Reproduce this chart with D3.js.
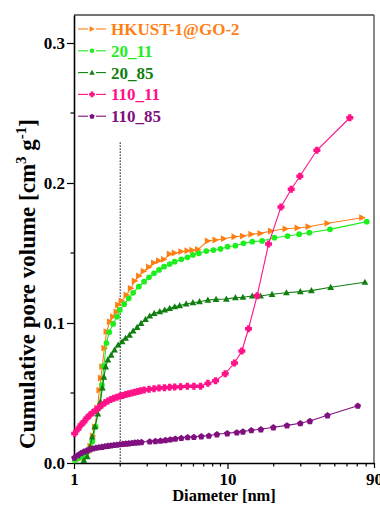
<!DOCTYPE html>
<html>
<head>
<meta charset="utf-8">
<script src="https://cdn.jsdelivr.net/npm/d3@7"></script>
<style>
  html, body { margin: 0; padding: 0; background: #fff; }
  svg { display: block; }
  text { font-family: "Liberation Serif", "Times New Roman", serif; font-weight: bold; }
</style>
</head>
<body>
<svg id="chart" width="380" height="505"></svg>
<script>
// Cumulative pore volume vs pore diameter (nm), five samples
const seriesNames = ["HKUST-1@GO-2", "20_11", "20_85", "110_11", "110_85"];

const hkustD = [1.03, 1.094, 1.161, 1.224, 1.28, 1.328, 1.369, 1.421, 1.464, 1.497, 1.527, 1.578, 1.63,
  1.713, 1.799, 1.893, 1.939, 2.04, 2.199, 2.345, 2.488, 2.653, 2.845, 3.08, 3.32, 3.58, 3.86, 4.2,
  4.53, 5.0, 5.48, 5.9, 6.42, 7.45, 8.35, 9.47, 11.1, 12.6, 14.3, 16.4, 19.2, 23.9, 28.6, 33.7, 44.8, 75.4];
const hkustV = [0.002, 0.003, 0.004, 0.0071, 0.0121, 0.0193, 0.0257, 0.0393, 0.0521, 0.0607, 0.0688, 0.0821, 0.0938,
  0.101, 0.1045, 0.108, 0.113, 0.1157, 0.12, 0.1248, 0.13, 0.1336, 0.137, 0.140, 0.143, 0.1445, 0.1455, 0.1493,
  0.150, 0.151, 0.1516, 0.152, 0.1525, 0.1586, 0.1593, 0.1602, 0.1616, 0.1621, 0.1634, 0.164, 0.1657, 0.1673, 0.1679, 0.1688, 0.1712, 0.1752];

const s2011D = [1.015, 1.051, 1.132, 1.191, 1.251, 1.315, 1.383, 1.453, 1.52, 1.566, 1.626, 1.695, 1.799,
  1.91, 1.989, 2.121, 2.275, 2.428, 2.643, 2.862, 3.08, 3.32, 3.58, 3.86, 4.2, 4.53, 5.0, 5.48, 5.95,
  6.51, 7.27, 8.1, 9.0, 10.0, 11.26, 12.7, 14.5, 16.8, 20.2, 24.6, 29.3, 34.1, 46.5, 80.7];
const s2011V = [0.0018, 0.0034, 0.0041, 0.0057, 0.0093, 0.0152, 0.0259, 0.0393, 0.0557, 0.0693, 0.0857, 0.0934, 0.0993,
  0.1045, 0.1093, 0.1134, 0.1176, 0.1216, 0.1259, 0.1295, 0.1326, 0.1355, 0.1379, 0.1402, 0.1421, 0.1438, 0.1455, 0.1469, 0.1486,
  0.1498, 0.1514, 0.1521, 0.1529, 0.1545, 0.1552, 0.1569, 0.1581, 0.1586, 0.1609, 0.1621, 0.1634, 0.1645, 0.1669, 0.1724];

const s2085D = [1.161, 1.22, 1.27, 1.315, 1.369, 1.431, 1.486, 1.531, 1.566, 1.609, 1.662, 1.746, 1.837,
  1.939, 2.059, 2.166, 2.3, 2.428, 2.577, 2.735, 2.923, 3.114, 3.33, 3.62, 3.9, 4.2, 4.53, 4.88, 5.38,
  5.95, 6.57, 7.45, 8.42, 9.83, 11.26, 12.6, 14.5, 16.4, 19.5, 24.2, 29.8, 35.2, 47.0, 78.5];
const s2085V = [0.0018, 0.0045, 0.0114, 0.0186, 0.0259, 0.035, 0.0436, 0.0536, 0.0614, 0.0686, 0.0736, 0.0771, 0.0807,
  0.0843, 0.0866, 0.0891, 0.0914, 0.0943, 0.0969, 0.0998, 0.1026, 0.105, 0.1069, 0.1081, 0.1093, 0.1105, 0.1116, 0.1124, 0.1136,
  0.1145, 0.1152, 0.1164, 0.1169, 0.1171, 0.1181, 0.1184, 0.1193, 0.1193, 0.1205, 0.1216, 0.1224, 0.1231, 0.1255, 0.1291];

const s11011D = [1.01, 1.062, 1.11, 1.161, 1.214, 1.27, 1.328, 1.389, 1.453, 1.52, 1.589, 1.662, 1.738,
  1.818, 1.902, 1.989, 2.08, 2.176, 2.276, 2.38, 2.489, 2.604, 2.723, 2.86, 3.08, 3.32, 3.58, 3.88,
  4.2, 4.53, 4.95, 5.47, 6.04, 6.68, 7.45, 8.36, 9.66, 11.1, 12.4, 13.7, 15.6, 18.5, 22.3, 26.0, 29.6, 38.2, 62.6];
const s11011V = [0.0211, 0.0243, 0.0271, 0.0295, 0.0321, 0.0343, 0.0361, 0.0379, 0.0396, 0.0414, 0.043, 0.0443, 0.0454,
  0.0462, 0.047, 0.0476, 0.0482, 0.0489, 0.0494, 0.05, 0.0506, 0.0511, 0.0516, 0.0521, 0.0526, 0.0531, 0.0536, 0.0538,
  0.0541, 0.0543, 0.0545, 0.0548, 0.0548, 0.0548, 0.0569, 0.0588, 0.0638, 0.0714, 0.080, 0.0959, 0.1195, 0.1564, 0.1829, 0.1955, 0.2048, 0.2234, 0.2466];

const s11085D = [1.007, 1.062, 1.11, 1.161, 1.214, 1.27, 1.328, 1.389, 1.453, 1.52, 1.589, 1.662, 1.738,
  1.818, 1.902, 1.989, 2.08, 2.176, 2.276, 2.38, 2.489, 2.604, 2.75, 3.114, 3.39, 3.66, 3.94, 4.24,
  4.57, 5.0, 5.5, 6.04, 6.75, 7.56, 8.53, 9.96, 11.5, 12.6, 14.3, 16.5, 19.9, 24.4, 29.8, 34.4, 44.8, 70.6];
const s11085V = [0.0039, 0.0057, 0.0071, 0.0082, 0.0091, 0.0098, 0.0104, 0.0109, 0.0113, 0.0116, 0.012, 0.0123, 0.0126,
  0.0129, 0.0131, 0.0134, 0.0137, 0.0139, 0.0141, 0.0144, 0.0146, 0.0148, 0.015, 0.0154, 0.0157, 0.016, 0.0164, 0.0169,
  0.0174, 0.0179, 0.0184, 0.0186, 0.0191, 0.0195, 0.0205, 0.0212, 0.0219, 0.0225, 0.0234, 0.0241, 0.0255, 0.0269, 0.0284, 0.030, 0.0341, 0.0409];

const seriesColors = ["#ff7f15", "#1eee1e", "#107f10", "#ff1289", "#80107f"];
const seriesShapes = ["triRight", "circle", "triUp", "cross", "pentagon"];

const xTickValues = [1, 10, 90];
const xTickLabels = ["1", "10", "90"];
const yTickValues = [0, 0.1, 0.2, 0.3];
const yTickLabels = ["0.0", "0.1", "0.2", "0.3"];
const markerLineD = 2;   // dotted reference line at 2 nm
const markerLineTop = 0.229;

const seriesD = [hkustD, s2011D, s2085D, s11011D, s11085D];
const seriesV = [hkustV, s2011V, s2085V, s11011V, s11085V];

const svg = d3.select("#chart");
const plotLeft = 74, plotRight = 374, plotTop = 15, plotBottom = 463;

const x = d3.scaleLog().domain([1, 90]).range([plotLeft, plotRight]);
const y = d3.scaleLinear().domain([0, 0.32]).range([plotBottom, plotTop]);

// marker shapes
function shapePath(kind) {
  switch (kind) {
    case "triRight": return "M-3,-3.4L3.6,0L-3,3.4Z";
    case "triUp": return "M0,-3.6L3.4,2.6L-3.4,2.6Z";
    case "circle": return d3.symbol(d3.symbolCircle, 26)();
    case "cross": return "M-1.7,-3.5H1.7V-1.7H3.5V1.7H1.7V3.5H-1.7V1.7H-3.5V-1.7H-1.7Z";
    case "pentagon": {
      const pts = d3.range(5).map(i => {
        const a = -Math.PI / 2 + i * 2 * Math.PI / 5;
        return [3.5 * Math.cos(a), 3.5 * Math.sin(a) + 0.3];
      });
      return "M" + pts.map(p => p.join(",")).join("L") + "Z";
    }
  }
}

// minor ticks
const xMinor = [2,3,4,5,6,7,8,9,20,30,40,50,60,70,80];
const yMinor = [0.05, 0.15, 0.25];

// frame (top/right)
svg.append("line").attr("x1", plotLeft).attr("x2", plotRight).attr("y1", plotTop).attr("y2", plotTop)
  .attr("stroke", "#444").attr("stroke-width", 1.4);
svg.append("line").attr("x1", plotRight).attr("x2", plotRight).attr("y1", plotTop).attr("y2", plotBottom)
  .attr("stroke", "#555").attr("stroke-width", 1.4);

// x axis
const xAxis = d3.axisBottom(x).tickValues(xTickValues)
  .tickFormat((d, i) => xTickLabels[i]).tickSizeInner(6).tickSizeOuter(0).tickPadding(4);
const gx = svg.append("g").attr("transform", `translate(0,${plotBottom})`).call(xAxis);
gx.selectAll(".tick").filter(d => d === 90).select("line").attr("y2", 5);
gx.append("g").selectAll("line").data(xMinor).join("line")
  .attr("x1", d => x(d)).attr("x2", d => x(d)).attr("y1", 0).attr("y2", 3.5)
  .attr("stroke", "#000").attr("stroke-width", 1.2);

// y axis
const yAxis = d3.axisLeft(y).tickValues(yTickValues)
  .tickFormat((d, i) => yTickLabels[i]).tickSizeInner(7).tickSizeOuter(0).tickPadding(2);
const gy = svg.append("g").attr("transform", `translate(${plotLeft},0)`).call(yAxis);
gy.append("g").selectAll("line").data(yMinor).join("line")
  .attr("x1", 0).attr("x2", -3.5).attr("y1", d => y(d)).attr("y2", d => y(d))
  .attr("stroke", "#000").attr("stroke-width", 1.2);

[gx, gy].forEach(g => {
  g.select(".domain").attr("stroke", "#000").attr("stroke-width", 1.6);
  g.selectAll(".tick line").attr("stroke", "#000").attr("stroke-width", 1.2);
  g.selectAll(".tick text").attr("fill", "#000")
    .style("font-family", '"Liberation Serif", serif').style("font-weight", "bold").style("font-size", "17px");
});
gx.selectAll(".tick text").attr("dy", "0.7em");

// axis titles
svg.append("text").attr("x", 224).attr("y", 501).attr("text-anchor", "middle")
  .style("font-size", "16.5px").text("Diameter [nm]");

const yt = svg.append("text")
  .attr("transform", "translate(35,284) rotate(-90)")
  .attr("text-anchor", "middle").style("font-size", "23px");
yt.append("tspan").text("Cumulative pore volume [cm");
yt.append("tspan").attr("dy", -9).style("font-size", "15px").text("3");
yt.append("tspan").attr("dy", 9).text(" g");
yt.append("tspan").attr("dy", -9).style("font-size", "15px").text("-1");
yt.append("tspan").attr("dy", 9).text("]");

// dotted reference line
svg.append("line").attr("x1", x(markerLineD)).attr("x2", x(markerLineD))
  .attr("y1", y(markerLineTop)).attr("y2", y(0))
  .attr("stroke", "#000").attr("stroke-width", 1).attr("stroke-dasharray", "1.5,1.5");

// series
const line = d3.line().x(p => x(p[0])).y(p => y(p[1]));
seriesNames.forEach((name, i) => {
  const pts = seriesD[i].map((d, j) => [d, seriesV[i][j]]);
  const g = svg.append("g");
  g.append("path").datum(pts).attr("d", line)
    .attr("fill", "none").attr("stroke", seriesColors[i]).attr("stroke-width", 1.1);
  g.selectAll("path.m").data(pts).join("path").attr("class", "m")
    .attr("d", shapePath(seriesShapes[i]))
    .attr("transform", p => `translate(${x(p[0])},${y(p[1])})`)
    .attr("fill", seriesColors[i]);
});

// legend
const legend = svg.append("g");
seriesNames.forEach((name, i) => {
  const cy = 29 + i * 21.8;
  legend.append("line").attr("x1", 78).attr("x2", 88).attr("y1", cy).attr("y2", cy)
    .attr("stroke", seriesColors[i]).attr("stroke-width", 1.1);
  legend.append("line").attr("x1", 96).attr("x2", 106).attr("y1", cy).attr("y2", cy)
    .attr("stroke", seriesColors[i]).attr("stroke-width", 1.1);
  legend.append("path").attr("d", shapePath(seriesShapes[i]))
    .attr("transform", `translate(92,${cy}) scale(0.8)`).attr("fill", seriesColors[i]);
  legend.append("text").attr("x", 111).attr("y", cy + 6)
    .style("font-size", "17px").attr("fill", seriesColors[i]).text(name);
});
</script>
</body>
</html>
